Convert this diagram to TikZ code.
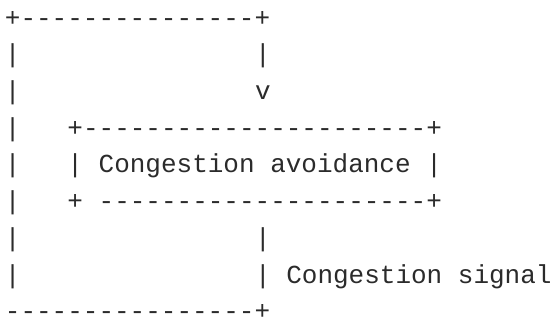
\documentclass[tikz,border=0pt]{standalone}
\usepackage{fontspec}
\setmonofont{Liberation Mono}
\definecolor{ink}{HTML}{2B2B2B}
\tikzset{
  ascii/.style={font=\ttfamily\fontsize{26}{30}\selectfont,text=ink,inner sep=0pt,text depth=0pt,anchor=base west},
}
\begin{document}
\begin{tikzpicture}[x=15.64pt,y=-36.7pt]
  \useasboundingbox (0pt,0pt) rectangle (554pt,-323pt);
  \begin{scope}[shift={(4.7pt,-26.2pt)}]
  % outer loop, top line
  \node [ascii] (looptop) at (0,0) {+---------------+};
  \foreach \r in {1,...,7}
    \node [ascii] (bar\r) at (0,\r) {|};
  \node [ascii] (down1) at (16,1) {|};
  \node [ascii] (arrowv) at (16,2) {v};
  % box
  \node [ascii] (boxtop) at (4,3) {+----------------------+};
  \node [ascii] (boxmid) at (4,4) {| Congestion avoidance |};
  \node [ascii] (boxbot) at (4,5) {+ ---------------------+};
  % signal back
  \node [ascii] (down2) at (16,6) {|};
  \node [ascii] (signal) at (16,7) {| Congestion signal};
  \node [ascii] (loopbot) at (0,8) {----------------+};
  \end{scope}
\end{tikzpicture}
\end{document}
